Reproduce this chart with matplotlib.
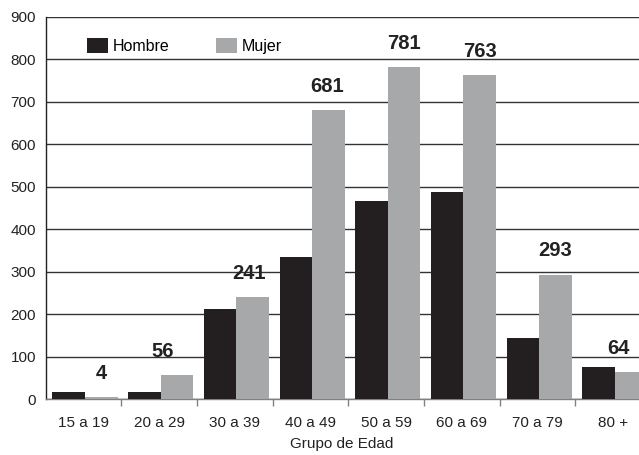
import numpy as np
import matplotlib.pyplot as plt
from matplotlib.patches import Patch

grupos = ['15 a 19', '20 a 29', '30 a 39', '40 a 49', '50 a 59', '60 a 69', '70 a 79', '80 +']
hombre = [16, 16, 212, 335, 465, 488, 143, 75]
mujer = [4, 56, 241, 681, 781, 763, 293, 64]
# small sideways nudges (points) for the value labels
nudge = [0, -10, -3, -1, 0, 0, 0, -9]

c_hombre = '#231f20'
c_mujer = '#a7a8aa'

plt.rcParams['font.family'] = ['Liberation Sans', 'DejaVu Sans']

fig = plt.figure(figsize=(6.39, 4.55), dpi=100)
ax = fig.add_axes([0.0715, 0.123, 0.9475, 0.8403])

x = np.arange(len(grupos))
w = 0.43
shift = 0.02

ax.bar(x - w/2 + shift, hombre, w, color=c_hombre, zorder=3)
ax.bar(x + w/2 + shift, mujer, w, color=c_mujer, zorder=3)

for i, v in enumerate(mujer):
    ax.annotate(str(v), (x[i] + w/2 + shift, v), xytext=(nudge[i], 17),
                textcoords='offset points', ha='center', va='center',
                fontsize=14.5, fontweight='bold', color='#222222',
                family=['Liberation Sans Narrow', 'Liberation Sans'], zorder=4)

ax.set_xlim(-0.5, len(grupos) - 0.5)
ax.set_ylim(0, 900)
ax.set_yticks(np.arange(0, 901, 100))
ax.set_xticks(x)
ax.set_xticklabels(grupos)
ax.set_xticks(np.arange(0.5, len(grupos) - 0.5, 1), minor=True)

ax.yaxis.grid(True, color='#333333', linewidth=1.0, zorder=1)
ax.set_axisbelow(True)

for s in ['top', 'right']:
    ax.spines[s].set_visible(False)
ax.spines['left'].set_color('#222222')
ax.spines['left'].set_linewidth(1.0)
ax.spines['bottom'].set_color('#808080')
ax.spines['bottom'].set_linewidth(1.0)

ax.tick_params(axis='y', length=0, pad=7, labelsize=11, labelcolor='#222222')
ax.tick_params(axis='x', which='major', length=0, pad=12, labelsize=11, labelcolor='#222222')
ax.tick_params(axis='x', which='minor', length=5, width=1, color='#808080', direction='out')

ax.set_xlabel('Grupo de Edad', fontsize=11, color='#222222')
ax.xaxis.set_label_coords(0.489, -0.100)

handles = [Patch(facecolor=c_hombre, label='Hombre'),
           Patch(facecolor=c_mujer, label='Mujer')]
fig.legend(handles=handles, loc='center left', bbox_to_anchor=(0.136, 0.898),
           ncol=2, frameon=False, fontsize=11.5, handlelength=1.31,
           handleheight=1.06, handletextpad=0.31, columnspacing=2.9,
           borderaxespad=0, borderpad=0)

fig.savefig('out.png', dpi=100)
